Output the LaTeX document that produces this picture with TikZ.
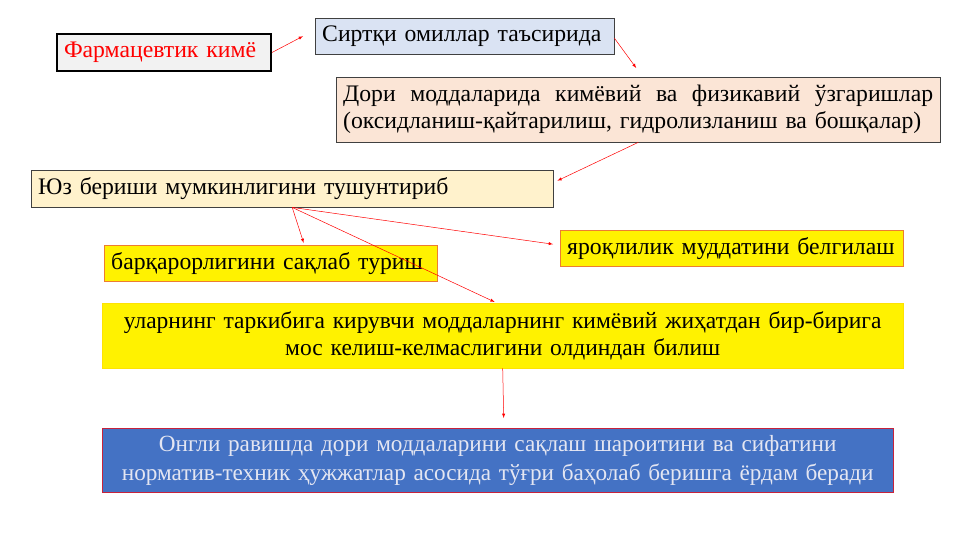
\documentclass[tikz,border=0pt]{standalone}
\usepackage{fontspec}
\setmainfont{Liberation Serif}
\definecolor{farmgray}{HTML}{F2F2F2}
\definecolor{sirtblue}{HTML}{DAE3F3}
\definecolor{doripeach}{HTML}{FBE5D6}
\definecolor{yuzcream}{HTML}{FFF2CC}
\definecolor{boxorange}{HTML}{ED7D31}
\definecolor{ongliblue}{HTML}{4472C4}
\definecolor{onglitext}{HTML}{E4E6F2}
\definecolor{edgegray}{HTML}{404040}

\begin{document}
\begin{tikzpicture}[x=1pt, y=-1pt, >=latex,
	box/.style={draw=edgegray, anchor=north west, inner xsep=7pt, inner ysep=0pt, align=left, font=\fontsize{23.7}{27}\selectfont},
	link/.style={->, red, line width=0.5pt}]
	\useasboundingbox (0,0) rectangle (961,540);
	\node (Farm) [box, draw=black, line width=2pt, fill=farmgray, text=red, text width=200pt, minimum height=37pt] at (56,33) {Фармацевтик кимё};
	\node (Sirt) [box, fill=sirtblue, text width=285pt, minimum height=36pt] at (315,18) {Сиртқи омиллар таъсирида};
	\node (Dori) [box, fill=doripeach, text width=590pt, minimum height=65pt] at (336,77) {Дори\hfill моддаларида\hfill кимёвий\hfill ва\hfill физикавий\hfill ўзгаришлар\\(оксидланиш-қайтарилиш, гидролизланиш ва бошқалар)};
	\node (Yuz) [box, fill=yuzcream, text width=508pt, minimum height=37pt] at (31,170) {Юз бериши мумкинлигини тушунтириб};
	\node (Yarok) [box, draw=boxorange, fill=yellow, text width=329pt, minimum height=36pt] at (560,230) {яроқлилик муддатини белгилаш};
	\node (Barq) [box, draw=boxorange, fill=yellow, text width=319pt, minimum height=36pt] at (104,245) {барқарорлигини сақлаб туриш};
	\node (Ular) [box, draw=yellow!85!orange, fill=yellow, align=center, text width=787pt, minimum height=65pt, font=\fontsize{23.5}{27}\selectfont] at (102,303) {уларнинг таркибига кирувчи моддаларнинг кимёвий жиҳатдан бир-бирига\\мос келиш-келмаслигини олдиндан билиш};
	\node (Ongli) [box, draw=red!70!ongliblue, fill=ongliblue, text=onglitext, align=center, text width=777pt, minimum height=64pt, font=\fontsize{23.2}{29}\selectfont] at (102,428) {Онгли равишда дори моддаларини сақлаш шароитини ва сифатини\\норматив-техник ҳужжатлар асосида тўғри баҳолаб беришга ёрдам беради};
	% free ends of the connectors
	\coordinate (SirtIn) at ([xshift=-12pt]Sirt.west);
	\coordinate (DoriIn) at ([xshift=-2pt,yshift=9pt]Dori.north);
	\coordinate (YuzIn) at ([xshift=4pt,yshift=8pt]Yuz.east);
	\coordinate (BarqIn) at ([xshift=33pt,yshift=2pt]Barq.north);
	\coordinate (YarokIn) at ([xshift=-7pt,yshift=4pt]Yarok.west);
	\coordinate (UlarIn) at ([xshift=-8pt,yshift=1pt]Ular.north);
	\coordinate (OngliIn) at ([xshift=6pt,yshift=10pt]Ongli.north);
	\draw[link] (Farm.east) to (SirtIn);
	\draw[link] ([yshift=-2pt]Sirt.east) to (DoriIn);
	\draw[link] (Dori.south) to (YuzIn);
	\draw[link] (Yuz.south) to (BarqIn);
	\draw[link] (Yuz.south) to (YarokIn);
	\draw[link] (Yuz.south) to (UlarIn);
	\draw[link] (Ular.south) to (OngliIn);
\end{tikzpicture}
\end{document}
